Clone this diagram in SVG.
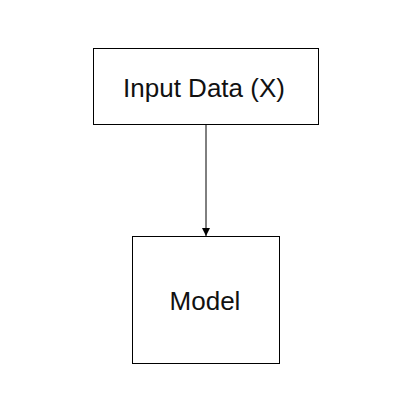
<svg xmlns="http://www.w3.org/2000/svg" width="412" height="413" viewBox="0 0 412 413">
<style>
.box{fill:#fff;stroke:#000;stroke-width:1}
.lbl{font-family:"Liberation Sans",Arial,sans-serif;font-size:26px;fill:#111;text-anchor:middle}
</style>
<defs>
<marker id="ah" markerWidth="8" markerHeight="8" refX="8" refY="4" orient="auto" markerUnits="userSpaceOnUse">
<path d="M0,0 L8,4 L0,8 z" fill="#000"/>
</marker>
</defs>
<rect width="412" height="413" fill="#fff"/>
<g id="connectors">
<line x1="206" y1="124" x2="206" y2="236" stroke="#000" stroke-width="1" marker-end="url(#ah)"/>
</g>
<g id="input">
<rect class="box" x="93.5" y="48.5" width="225" height="76"/>
<text class="lbl" x="204" y="97">Input Data (X)</text>
</g>
<g id="model">
<rect class="box" x="132.5" y="236.5" width="147" height="127"/>
<text class="lbl" x="205" y="310">Model</text>
</g>
</svg>
